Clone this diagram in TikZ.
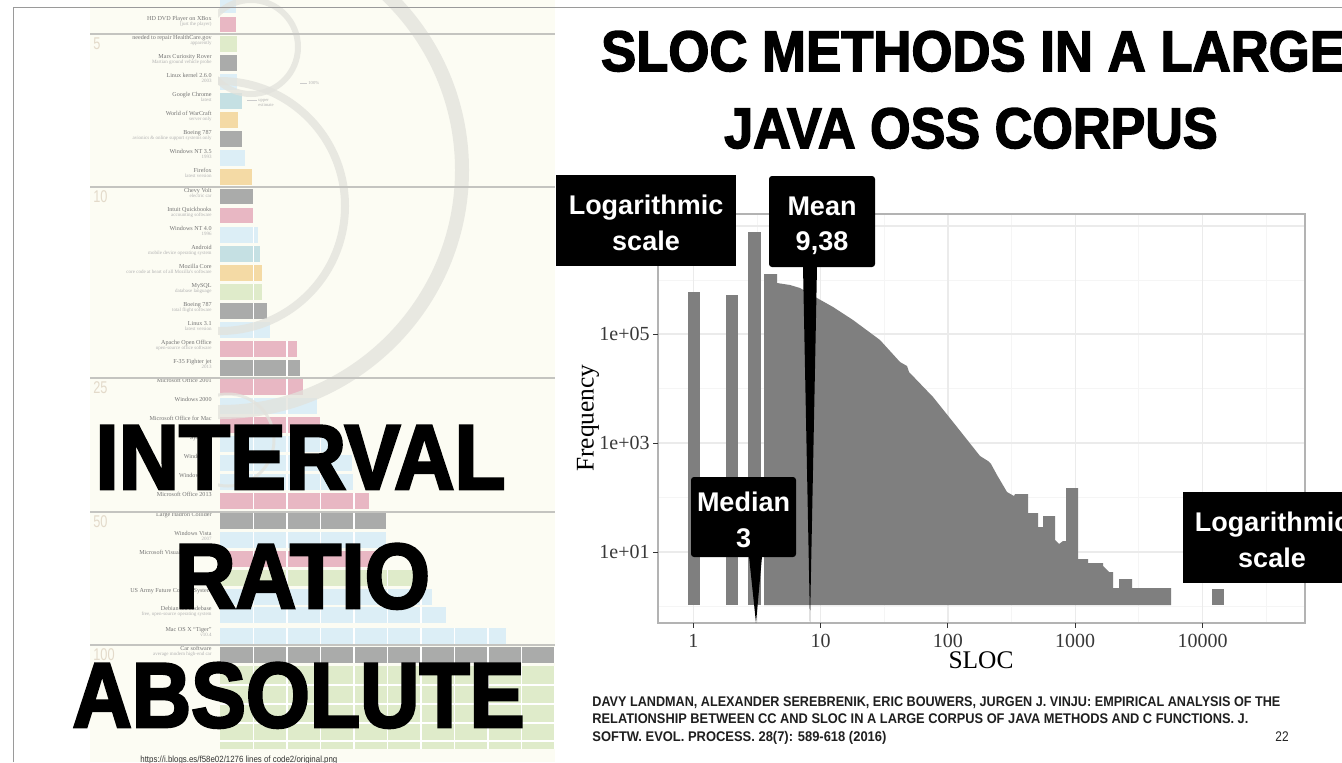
\documentclass[tikz,border=0pt]{standalone}
\usepackage{fontspec}
\setmainfont{Liberation Serif}
\newfontfamily\lheavy[BoldFeatures={FakeBold=3}]{Liberation Sans}
\newfontfamily\ltitle[BoldFeatures={FakeBold=2.6}]{Liberation Sans}
\newfontfamily\lsans{Liberation Sans}
\newfontfamily\lserif{Liberation Serif}
\definecolor{cream}{HTML}{FCFCF3}
\definecolor{bpink}{HTML}{E8B7C3}
\definecolor{bblue}{HTML}{DCEEF6}
\definecolor{bteal}{HTML}{C5E0E3}
\definecolor{borange}{HTML}{F4DAA5}
\definecolor{bgreen}{HTML}{DFEBCA}
\definecolor{bgray}{HTML}{AAABAA}
\definecolor{ringc}{HTML}{E2E2DC}
\definecolor{secc}{HTML}{E3DACA}
\definecolor{sepc}{HTML}{C4C4C0}
\definecolor{histgray}{HTML}{7F7F7F}
\definecolor{gridmaj}{HTML}{EBEBEB}
\definecolor{gridmin}{HTML}{F5F5F5}
\definecolor{panelb}{HTML}{B3B3B3}
\definecolor{slideb}{HTML}{9A9A9A}
\tikzset{
  rowlbl/.style={anchor=base east, inner sep=0, font=\lserif\fontsize{3.05}{3.5}\selectfont, text=black!55},
  rowsub/.style={anchor=base east, inner sep=0, font=\lserif\fontsize{2.5}{3}\selectfont, text=black!30},
  secnum/.style={anchor=base west, inner sep=0, font=\lsans\fontsize{8.5}{9}\selectfont, text=secc},
  tinytxt/.style={anchor=west, inner sep=0, font=\lserif\fontsize{2.3}{2.8}\selectfont, text=black!30},
  bigword/.style={anchor=base, inner sep=0, font=\lheavy\bfseries\fontsize{46}{46}\selectfont, text=black},
  titletext/.style={anchor=base, inner sep=0, font=\ltitle\bfseries\fontsize{28.65}{30}\selectfont, text=black},
  cbox/.style={fill=black, inner sep=0},
  ctext/.style={anchor=base, inner sep=0, text=white, font=\lsans\bfseries\fontsize{13.5}{16}\selectfont},
  ticklbl/.style={inner sep=0, font=\lserif\fontsize{10}{12}\selectfont, text=black!78},
  axtitle/.style={inner sep=0, font=\lserif\fontsize{12.7}{14}\selectfont, text=black},
  cite/.style={anchor=base west, inner sep=0, font=\lsans\bfseries\fontsize{7}{8}\selectfont, text=black!88},
  ringline/.style={draw=ringc, opacity=0.75},
}
\newcommand\bgbar[4]{%
  \begin{scope}
    \clip (220,#1) rectangle (#3,#2);
    \fill[#4] (220,#1) rectangle (#3,#2);
    \foreach \gx in {253.5,287,...,555} \draw[white,line width=0.6pt] (\gx,#1) -- (\gx,#2);
  \end{scope}}
\newcommand\bgrow[6]{%
  \bgbar{#1}{#2}{#3}{#4}
  \node[rowlbl] (#5) at (212,#1+3.7) {#6};}
\newcommand\bgrowsub[7]{%
  \bgrow{#1}{#2}{#3}{#4}{#5}{#6}
  \node[rowsub] (#5s) at (212,#1+8.7) {#7};}
\begin{document}
\begin{tikzpicture}[x=0.5pt,y=-0.5pt]
\clip (0,0) rectangle (1342,762);
\fill[white] (0,0) rectangle (1342,762);
% ---------- background infographic ----------
\fill[cream] (90,0) rectangle (555,762);
\bgbar{0}{13}{236}{bblue}
\bgrowsub{17}{32}{236}{bpink}{r1}{HD DVD Player on XBox}{(just the player)}
\bgrowsub{36}{52}{237}{bgreen}{r2}{needed to repair HealthCare.gov}{apparently}
\bgrowsub{55}{71}{237}{bgray}{r3}{Mars Curiosity Rover}{Martian ground vehicle probe}
\bgrowsub{74}{90}{237}{bblue}{r4}{Linux kernel 2.6.0}{2003}
\bgrowsub{93}{109}{242}{bteal}{r5}{Google Chrome}{latest}
\bgrowsub{112}{128}{238}{borange}{r6}{World of WarCraft}{server only}
\bgrowsub{131}{147}{242}{bgray}{r7}{Boeing 787}{avionics \& online support systems only}
\bgrowsub{150}{166}{245}{bblue}{r8}{Windows NT 3.5}{1993}
\bgrowsub{169}{185}{252}{borange}{r9}{Firefox}{latest version}
\bgrowsub{189}{204}{253}{bgray}{r10}{Chevy Volt}{electric car}
\bgrowsub{208}{223}{253}{bpink}{r11}{Intuit Quickbooks}{accounting software}
\bgrowsub{227}{243}{258}{bblue}{r12}{Windows NT 4.0}{1996}
\bgrowsub{246}{262}{260}{bteal}{r13}{Android}{mobile device operating system}
\bgrowsub{265}{281}{262}{borange}{r14}{Mozilla Core}{core code at heart of all Mozilla's software}
\bgrowsub{284}{300}{262}{bgreen}{r15}{MySQL}{database language}
\bgrowsub{303}{319}{267}{bgray}{r16}{Boeing 787}{total flight software}
\bgrowsub{322}{338}{270}{bblue}{r17}{Linux 3.1}{latest version}
\bgrowsub{341}{357}{297}{bpink}{r18}{Apache Open Office}{open-source office software}
\bgrowsub{360}{376}{300}{bgray}{r19}{F-35 Fighter jet}{2013}
\bgrow{379}{395}{303}{bpink}{r20}{Microsoft Office 2001}
\bgrow{398}{414}{317}{bblue}{r21}{Windows 2000}
\bgrow{417}{433}{320}{bpink}{r22}{Microsoft Office for Mac}
\bgrow{436}{452}{340}{bblue}{r23}{Symbian}
\bgrow{455}{471}{352}{bblue}{r24}{Windows 7}
\bgrow{474}{490}{353}{bblue}{r25}{Windows XP}
\bgrow{493}{509}{369}{bpink}{r26}{Microsoft Office 2013}
\bgrow{513}{529}{386}{bgray}{r27}{Large Hadron Collider}
\bgrowsub{532}{548}{386}{bblue}{r28}{Windows Vista}{2007}
\bgrow{551}{567}{380}{bpink}{r29}{Microsoft Visual Studio 2012}
\bgbar{570}{586}{413}{bgreen}
\bgrow{589}{605}{432}{bblue}{r31}{US Army Future Combat System}
\bgrowsub{607}{623}{446}{bblue}{r32}{Debian 5.0 codebase}{free, open-source operating system}
\bgrowsub{628}{644}{506}{bblue}{r33}{Mac OS X “Tiger”}{v10.4}
\bgrowsub{647}{663}{555}{bgray}{r34}{Car software}{average modern high-end car}
\bgbar{666}{749}{555}{bgreen}
\foreach \hy in {685,704,723,741} \draw[white,line width=0.6pt] (220,\hy) -- (555,\hy);
% rings
\begin{scope}
  \clip (218,0) rectangle (555,762);
  \draw[ringline, line width=7pt] (220,170) circle[radius=242];
  \draw[ringline, line width=4pt] (220,206) circle[radius=125];
  \draw[ringline, line width=3pt] (251,47) circle[radius=47];
  \draw[ringline, line width=1.5pt] (228,440) circle[radius=46];
\end{scope}
\coordinate (l1a) at (300,83); \coordinate (l1b) at (307,83);
\draw[black!20, line width=0.3pt] (l1a) -- (l1b);
\node[tinytxt] (p100) at (308,83) {100\%};
\coordinate (l2a) at (247,100); \coordinate (l2b) at (257,100);
\draw[black!20, line width=0.3pt] (l2a) -- (l2b);
\node[tinytxt, align=left] (pupper) at (258,103) {upper\\estimate};
% separators
\foreach \sy/\sn in {34/5,187/10,378/25,512/50,645/100}{
  \draw[sepc, line width=0.6pt] (90,\sy) -- (555,\sy);
  \node[secnum] (sec\sn) at (93,\sy+15) {\scalebox{0.75}[1]{\sn}};
}
\node[anchor=base west, inner sep=0, font=\lsans\fontsize{4.5}{5}\selectfont, text=black!80] (url) at (140,762) {\resizebox{98.5pt}{\height}{https://i.blogs.es/f58e02/1276 lines of code2/original.png}};
% slide border
\draw[slideb, line width=0.5pt] (13,762) -- (13,7) -- (1342,7);
% big words
\node[bigword] (winterval) at (300.5,489) {\resizebox{205pt}{\height}{INTERVAL}};
\node[bigword] (wratio) at (302.5,608) {\resizebox{127.5pt}{\height}{RATIO}};
\node[bigword] (wabsolute) at (298.5,727) {\resizebox{226pt}{\height}{ABSOLUTE}};
% title
\node[titletext] (title1) at (973,71) {\scalebox{0.92}[1]{SLOC METHODS IN A LARGE}};
\node[titletext] (title2) at (971,148) {\scalebox{0.91}[1]{JAVA OSS CORPUS}};
% ---------- chart ----------
\foreach \gx in {757,884.3,1011.6,1138.9,1266.2} \draw[gridmin, line width=0.5pt] (\gx,214) -- (\gx,623);
\foreach \gy in {280,388.5,497,606} \draw[gridmin, line width=0.5pt] (658,\gy) -- (1305,\gy);
\foreach \gx in {693.3,820.6,947.9,1075.2,1202.5} \draw[gridmaj, line width=0.6pt] (\gx,214) -- (\gx,623);
\foreach \gy in {226,334,443,552} \draw[gridmaj, line width=0.6pt] (658,\gy) -- (1305,\gy);
% histogram
\fill[histgray] (688,292) rectangle (700,605);
\fill[histgray] (726,295) rectangle (738,605);
\fill[histgray] (748,232) rectangle (761,605);
\fill[histgray] (764,605) -- (764,274) -- (777,274) -- (777,283) -- (790,285) -- (800,288) -- (817,298) -- (833,307) -- (853,320) -- (880,340) -- (900,362) -- (907,366) -- (909,372) -- (933,397) -- (957,427) -- (980,456) -- (988,461) -- (991,464) -- (997,475) -- (1007,492) -- (1014,496) -- (1015,494) -- (1028,494) -- (1028,513) -- (1038,513) -- (1038,527) -- (1043,527) -- (1043,516) -- (1055,516) -- (1055,540) -- (1059,544) -- (1063,541) -- (1066,541) -- (1066,488) -- (1078,488) -- (1078,559) -- (1088,559) -- (1088,563) -- (1103,563) -- (1103,566) -- (1109,572) -- (1113,572) -- (1113,588) -- (1119,588) -- (1119,579) -- (1132,579) -- (1132,588) -- (1171,588) -- (1171,605) -- cycle;
\fill[histgray] (1212,589) rectangle (1224,605);
\draw[panelb, line width=0.75pt] (658,214) rectangle (1305,623);
% ticks and labels
\foreach \gx/\lab in {693.3/1,820.6/10,947.9/100,1075.2/1000,1202.5/10000}{
  \draw[black!80, line width=0.5pt] (\gx,623) -- (\gx,628);
  \node[ticklbl, anchor=base] (xt\lab) at (\gx,647) {\lab};
}
\foreach \gy/\lab in {334/05,443/03,552/01}{
  \draw[black!80, line width=0.5pt] (653,\gy) -- (658,\gy);
  \node[ticklbl, anchor=east] (yt\lab) at (650,\gy) {1e+\lab};
}
\node[axtitle, anchor=base] (xlab) at (981,668) {SLOC};
\node[axtitle, rotate=90] (ylab) at (588,418) {Frequency};
% callouts
\node[cbox, minimum width=90pt, minimum height=45.5pt] (logbox1) at (646,220.5) {};
\node[ctext] (log1a) at (646,214) {Logarithmic};
\node[ctext] (log1b) at (646,250) {scale};
\node[cbox, minimum width=53pt, minimum height=45.5pt, rounded corners=1.5pt] (meanbox) at (822,221.5) {};
\coordinate (meantip) at (810,622);
\fill[black] ([xshift=-9.5pt,yshift=0.5pt]meanbox.south) -- ([xshift=-2.5pt,yshift=0.5pt]meanbox.south) -- (meantip) -- cycle;
\node[ctext] (mean1) at (822,215) {Mean};
\node[ctext] (mean2) at (822,250.5) {9,38};
\node[cbox, minimum width=52.5pt, minimum height=40pt, rounded corners=1.5pt] (medbox) at (743.5,517) {};
\coordinate (medtip) at (756,623);
\fill[black] ([xshift=2.75pt,yshift=0.5pt]medbox.south) -- ([xshift=9.25pt,yshift=0.5pt]medbox.south) -- (medtip) -- cycle;
\node[ctext] (med1) at (743.5,511) {Median};
\node[ctext] (med2) at (743.5,547) {3};
\node[cbox, minimum width=89.5pt, minimum height=45.5pt] (logbox2) at (1272.5,537.5) {};
\node[ctext] (log2a) at (1272,531) {Logarithmic};
\node[ctext] (log2b) at (1272,567) {scale};
% citation
\node[cite] (cite1) at (592,706) {\resizebox{344pt}{\height}{DAVY LANDMAN, ALEXANDER SEREBRENIK, ERIC BOUWERS, JURGEN J. VINJU: EMPIRICAL ANALYSIS OF THE}};
\node[cite] (cite2) at (592,723.5) {\resizebox{328pt}{\height}{RELATIONSHIP BETWEEN CC AND SLOC IN A LARGE CORPUS OF JAVA METHODS AND C FUNCTIONS. J.}};
\node[cite] (cite3) at (592,741) {\resizebox{147pt}{\height}{SOFTW. EVOL. PROCESS. 28(7): 589-618 (2016)}};
\node[anchor=base, inner sep=0, font=\lsans\fontsize{7}{8}\selectfont, text=black!85] (pagenum) at (1282,741) {\scalebox{0.85}[1]{22}};
\end{tikzpicture}
\end{document}
